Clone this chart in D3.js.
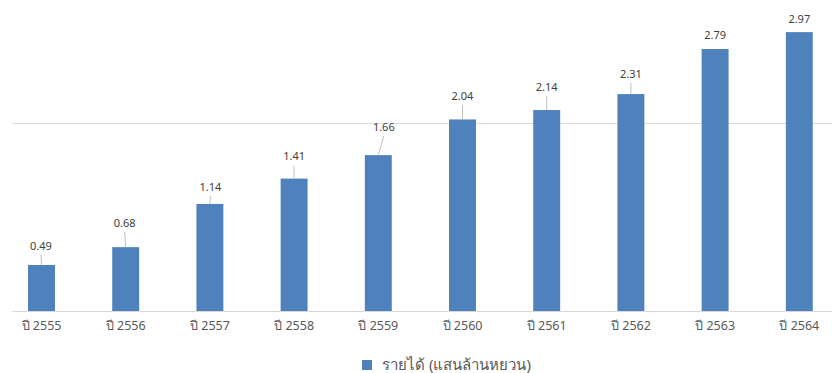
<!DOCTYPE html>
<html>
<head>
<meta charset="utf-8">
<script src="https://cdn.jsdelivr.net/npm/d3@7"></script>
<style>
  html, body { margin: 0; padding: 0; background: #fff; }
  svg { display: block; font-family: Tahoma, "Noto Sans", "DejaVu Sans", sans-serif; }
</style>
</head>
<body>
<svg id="chart" width="832" height="373"></svg>
<script>
// Revenue by year (hundred-billion yuan)
const years = ["ปี 2555", "ปี 2556", "ปี 2557", "ปี 2558", "ปี 2559",
               "ปี 2560", "ปี 2561", "ปี 2562", "ปี 2563", "ปี 2564"];
const revenue = [0.49, 0.68, 1.14, 1.41, 1.66, 2.04, 2.14, 2.31, 2.79, 2.97];
const seriesName = "รายได้ (แสนล้านหยวน)";
const gridValues = [0, 2];

// Hand-placed label nudges [dx, dy] relative to each bar top (px)
const labelNudge = [[-0.5, -19], [-1, -24], [0.5, -17], [0, -22], [5.5, -28],
                    [0, -23], [0, -23], [0, -20], [0, -14], [0, -13]];

const svg = d3.select("#chart");
const W = 832, H = 373;

const x = d3.scaleBand().domain(years).range([-0.6, 841.4]).paddingInner(0.68).paddingOuter(0.34);
const y = d3.scaleLinear().domain([0, 3]).range([311, 29.3]);

// gridlines
svg.append("g").selectAll("line").data(gridValues).join("line")
  .attr("x1", 12).attr("x2", W)
  .attr("y1", d => Math.round(y(d)) + 0.5).attr("y2", d => Math.round(y(d)) + 0.5)
  .attr("stroke", "#d9d9d9").attr("stroke-width", 1);

// bars
svg.append("g").selectAll("rect").data(revenue).join("rect")
  .attr("x", (d, i) => x(years[i]))
  .attr("width", x.bandwidth())
  .attr("y", d => y(d))
  .attr("height", d => y(0) - y(d))
  .attr("fill", "#4f81bd");

// category axis labels
const xAxis = d3.axisBottom(x).tickSize(0).tickPadding(10);
const gx = svg.append("g").attr("transform", `translate(0,${y(0)})`).call(xAxis);
gx.select(".domain").remove();
gx.selectAll("text").attr("font-size", 12.5).attr("fill", "#595959")
  .style("font-family", "Tahoma, 'Noto Sans', 'DejaVu Sans', sans-serif");

// value labels with leader lines
const lab = svg.append("g");
revenue.forEach((v, i) => {
  const cx = x(years[i]) + x.bandwidth() / 2;
  const top = y(v);
  const lx = cx + labelNudge[i][0];
  const ly = top + labelNudge[i][1];
  if (labelNudge[i][1] < -15) {
    lab.append("line")
      .attr("x1", lx).attr("y1", ly + 9)
      .attr("x2", cx).attr("y2", top)
      .attr("stroke", "#bfbfbf").attr("stroke-width", 1);
  }
  lab.append("text")
    .attr("x", lx).attr("y", ly)
    .attr("dy", "0.35em")
    .attr("text-anchor", "middle")
    .attr("font-size", 11)
    .attr("fill", "#404040")
    .text(v.toFixed(2));
});

// legend
const lg = svg.append("g").attr("transform", "translate(362,360)");
lg.append("rect").attr("width", 10).attr("height", 10).attr("fill", "#4f81bd");
lg.append("text").attr("x", 20).attr("y", 5).attr("dy", "0.35em")
  .attr("font-size", 15).attr("fill", "#595959").text(seriesName);
</script>
</body>
</html>
